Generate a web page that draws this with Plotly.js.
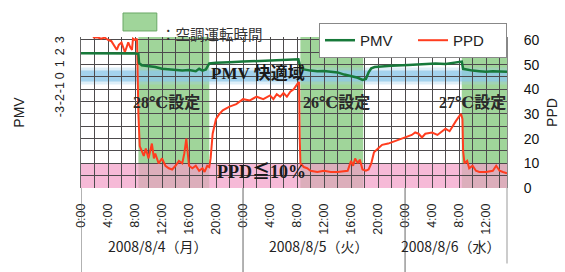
<!DOCTYPE html>
<html><head><meta charset="utf-8">
<script src="https://cdn.plot.ly/plotly-3.0.1.min.js"></script>
<style>html,body{margin:0;padding:0;background:#fff}#chart{width:565px;height:272px}</style>
</head><body><div id="chart"></div>
<script>
// Hours elapsed since 2008/8/4 0:00
const pmvHours = [0,1,2,3,4,5,6,7,8,8.5,8.6,9,10,11,12,13,14,15,16,17,17.5,18,18.5,19,20,21,22,24,26,28,30,31.5,32.2,32.5,33,34,35,36,37,38,39,40,41,41.7,42.2,42.6,43,43.5,44.5,46,48.5,50,52.5,54,55,56,56.4,56.6,57,58,59,60,61,62,63.1];
const pmvValues = [1.9,1.9,1.88,1.9,1.92,1.9,1.88,1.9,1.88,1.85,1.1,0.9,0.85,0.75,0.6,0.55,0.5,0.45,0.5,0.4,0.6,0.45,0.55,1.05,1.1,1.1,1.15,1.2,1.25,1.3,1.35,1.4,1.4,0.7,0.55,0.45,0.4,0.42,0.35,0.3,0.12,0.0,-0.15,-0.33,-0.25,0.3,0.65,0.75,0.8,0.85,0.92,0.95,1.05,1.0,1.1,1.15,1.2,0.6,0.55,0.45,0.4,0.35,0.4,0.35,0.35];

const ppdHours = [0,1,1.9,2.5,3,3.5,4,4.5,5,5.3,5.6,6,6.5,7,7.3,7.55,7.7,8,8.3,8.5,8.7,9,9.3,9.6,10,10.5,10.8,11,11.5,12,12.5,13,13.5,14,14.5,15,15.3,15.6,15.8,16,16.5,17,17.5,18,18.3,18.7,19,19.2,19.5,20,20.5,21,22,23,24,25,26,27,28,28.5,29,29.5,30,30.5,31,31.5,32,32.3,32.4,32.5,33,33.5,34,35,36,37,38,39,39.5,40,40.3,40.6,41,41.3,41.7,42.2,42.6,43,43.4,44,44.6,45.5,46.5,47.5,48.5,49,49.5,50,50.5,51,52,52.8,53.5,54,54.6,55,55.5,56,56.3,56.5,56.6,56.8,57.2,57.5,58,58.5,59,60,61,61.5,62,62.5,63.1];
const ppdValues = [75,68,61,61,60.5,61,60,59.5,57,56,58,59,55,59,57,56,60.5,60,60.5,30,17,15,13,16,12,18,12,14,10,12,9,8,7.5,9,11,10,14,20,13,9,8,9,7,8,6.5,9,8.5,12,22,28,30,31.5,33,34,36,35.5,37,36,37.5,36,38,37,38.5,37,39,40,42,43,20,10,8.5,8,7,6.5,7,6.5,6.5,6.8,7,11,9,12,10,11.5,7.5,7,7.5,10,14.5,16,17.5,18,19,20,21,21.5,22.5,22,20.5,22,22.5,21.5,23,24,23,25,27,29,30,28,15,10,11,8,9,7,6.5,6.5,7,9,7,6.5,6];

// Air-conditioner operating periods (hours)
const acStart = [8.5, 32.5, 56.4];
const acEnd = [19, 41.8, 63.1];
const setpointLabels = ['28℃設定', '26℃設定', '27℃設定'];

const xTickVals = [0,4,8,12,16,20,24,28,32,36,40,44,48,52,56,60];
const xTickText = ['0:00','4:00','8:00','12:00','16:00','20:00','0:00','4:00','8:00','12:00','16:00','20:00','0:00','4:00','8:00','12:00'];
const dayStarts = [0, 24, 48];
const dayLabels = ['2008/8/4（月）', '2008/8/5（火）', '2008/8/6（水）'];
const dayLabelPos = [11.4, 35.3, 54.8];
const ppdTicks = [0,10,20,30,40,50,60];
const pmvTicks = [3,2,1,0,-1,-2,-3];

const GRID = '#4d4a4c';
const shapes = [];
for (let i = 0; i < acStart.length; i++) {
  shapes.push({type:'rect', layer:'below', xref:'x', yref:'paper', x0:acStart[i], x1:acEnd[i], y0:0, y1:1,
    fillcolor:'#a0d59a', line:{width:0}});
}
shapes.push({type:'rect', layer:'below', xref:'paper', yref:'y', x0:0, x1:1, y0:0, y1:10,
  fillcolor:'rgba(242,160,200,0.72)', line:{width:0}});
shapes.push({type:'rect', layer:'below', xref:'paper', yref:'y2', x0:0, x1:1, y0:-0.7, y1:0.7,
  fillcolor:'rgba(160,210,236,0.35)', line:{width:0}});
shapes.push({type:'rect', layer:'below', xref:'paper', yref:'y2', x0:0, x1:1, y0:-0.45, y1:0.45,
  fillcolor:'rgba(140,200,234,0.7)', line:{width:0}});
dayStarts.forEach(d => shapes.push({type:'line', xref:'x', yref:'paper', x0:d, x1:d, y0:0, y1:-0.56,
  line:{color:'#666', width:1}}));
shapes.push({type:'line', xref:'paper', yref:'paper', x0:1, x1:1, y0:0, y1:-0.5, line:{color:'#999', width:1}});
// top legend swatch
shapes.push({type:'rect', xref:'paper', yref:'paper', x0:0.0986, x1:0.178, y0:1.04, y1:1.159,
  fillcolor:'#a0d59a', line:{color:'#6aa866', width:1}});

const serif = '"Liberation Serif", "DejaVu Serif", "Noto Sans CJK JP", serif';
const cjk = '"Noto Sans CJK JP", "Liberation Sans", sans-serif';
const annotations = [
  {xref:'paper', yref:'paper', x:0.183, y:1.106, xanchor:'left', text:'：空調運転時間', showarrow:false,
    font:{family:cjk, size:14.5, color:'#333'}},
  {xref:'x', yref:'y', x:26.2, y:46.6, text:'<b>PMV 快適域</b>', showarrow:false, font:{family:serif, size:17, color:'#1a1a1a'}},
  {xref:'x', yref:'y', x:12.6, y:34.5, text:'<b>' + setpointLabels[0] + '</b>', showarrow:false, font:{family:serif, size:16, color:'#2a2a2a'}},
  {xref:'x', yref:'y', x:37.8, y:34.5, text:'<b>' + setpointLabels[1] + '</b>', showarrow:false, font:{family:serif, size:16, color:'#2a2a2a'}},
  {xref:'x', yref:'y', x:58.0, y:34.5, text:'<b>' + setpointLabels[2] + '</b>', showarrow:false, font:{family:serif, size:16, color:'#2a2a2a'}},
  {xref:'x', yref:'y', x:26.8, y:6.5, text:'<b>PPD≦10%</b>', showarrow:false, font:{family:serif, size:18, color:'#1a1a1a'}}
];
for (let i = 0; i < dayLabels.length; i++) {
  annotations.push({xref:'x', yref:'paper', x:dayLabelPos[i], y:-0.464, text:dayLabels[i], showarrow:false,
    font:{family:cjk, size:14, color:'#222'}});
}
// PMV tick labels, rotated as in the original
pmvTicks.forEach(v => annotations.push({xref:'paper', yref:'y2', x:-0.049, xanchor:'center', y:v, text:String(v),
  textangle:-90, showarrow:false, font:{size:12.5, color:'#222'}}));

const traces = [
  {x:pmvHours, y:pmvValues, name:'PMV', type:'scatter', mode:'lines', yaxis:'y2',
    line:{color:'#17793a', width:2.5}},
  {x:ppdHours, y:ppdValues, name:'PPD', type:'scatter', mode:'lines', yaxis:'y',
    line:{color:'#ff3d1f', width:2}}
];

const layout = {
  width:565, height:272,
  margin:{l:81, r:58, t:37, b:84},
  paper_bgcolor:'#fff', plot_bgcolor:'#fff',
  font:{family:'"Liberation Sans", Arial, sans-serif', color:'#222'},
  showlegend:true,
  legend:{orientation:'h', x:1, xanchor:'right', y:1.093, yanchor:'top', bgcolor:'#fff',
    bordercolor:'#888', borderwidth:1, font:{size:15, color:'#222'}, traceorder:'normal',
    entrywidth:48, entrywidthmode:'pixels'},
  xaxis:{range:[0,63.1], tickmode:'array', tickvals:xTickVals, ticktext:xTickText, tickangle:-90,
    ticks:'', ticklabelstandoff:12, tickfont:{size:12.5, color:'#222'},
    showgrid:true, gridcolor:GRID, gridwidth:1, zeroline:false, showline:false,
    minor:{dtick:2, tick0:0, showgrid:true, gridcolor:GRID, gridwidth:1}},
  yaxis:{range:[0,61.2], side:'right', tickmode:'array', tickvals:ppdTicks, ticks:'',
    ticklabelstandoff:13, tickfont:{size:14, color:'#111'},
    showgrid:true, gridcolor:GRID, gridwidth:1, zeroline:false, showline:true, linecolor:'#888', mirror:false,
    minor:{dtick:5, tick0:0, showgrid:true, gridcolor:GRID, gridwidth:1},
    title:{text:'PPD', font:{size:14, color:'#222'}, standoff:8}},
  yaxis2:{range:[-9.33,3.25], overlaying:'y', side:'left', tickmode:'array', tickvals:pmvTicks,
    ticks:'', showticklabels:false,
    showgrid:false, zeroline:false, showline:true, linecolor:'#666',
    title:{text:'PMV', font:{size:14, color:'#222'}, standoff:52}},
  shapes:shapes,
  annotations:annotations
};
Plotly.newPlot('chart', traces, layout, {displayModeBar:false, staticPlot:true});
</script></body></html>
